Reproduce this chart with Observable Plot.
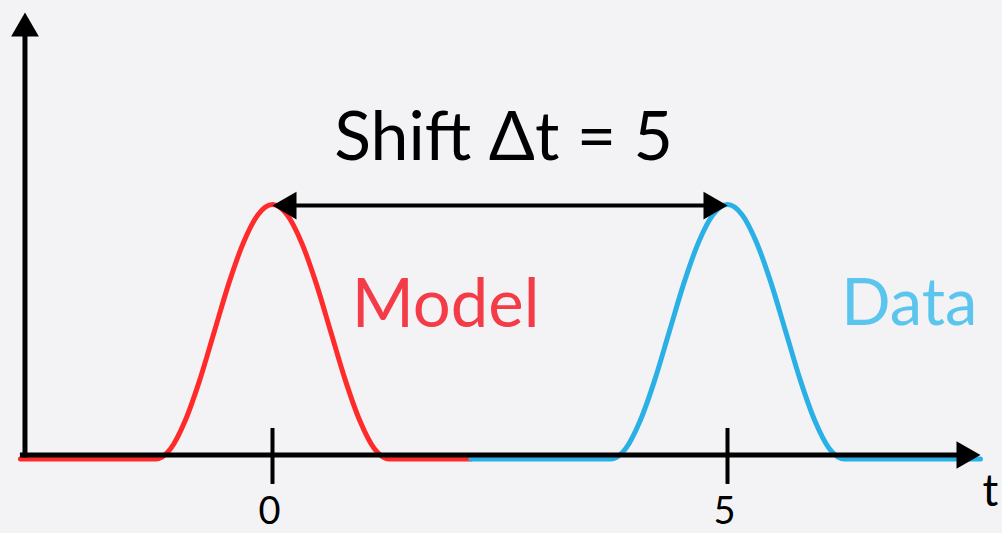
<!DOCTYPE html>
<html>
<head>
<meta charset="utf-8">
<script src="https://cdn.jsdelivr.net/npm/d3@7"></script>
<script src="https://cdn.jsdelivr.net/npm/@observablehq/plot@0.6"></script>
<style>
  html, body { margin: 0; padding: 0; background: #f3f3f6; }
  #chart { width: 1002px; height: 533px; overflow: hidden; }
</style>
</head>
<body>
<div id="chart"></div>
<script>
// Model curve (red): t in units, y relative to peak height
const modelT = [-2.77, -1.28, -1.12, -0.96, -0.80, -0.64, -0.48, -0.32, -0.16, 0, 0.16, 0.32, 0.48, 0.64, 0.80, 0.96, 1.12, 1.28, 2.18];
const modelY = [0, 0, 0.04, 0.15, 0.31, 0.50, 0.69, 0.85, 0.96, 1, 0.96, 0.85, 0.69, 0.50, 0.31, 0.15, 0.04, 0, 0];
// Data curve (blue)
const dataT = [2.18, 3.72, 3.88, 4.04, 4.20, 4.36, 4.52, 4.68, 4.84, 5, 5.16, 5.32, 5.48, 5.64, 5.80, 5.96, 6.12, 6.28, 7.78];
const dataY = [0, 0, 0.04, 0.15, 0.31, 0.50, 0.69, 0.85, 0.96, 1, 0.96, 0.85, 0.69, 0.50, 0.31, 0.15, 0.04, 0, 0];

// axes extents (in data units)
const xAxisExtent = [-2.77, 7.78];
const yAxisExtent = [0.006, 1.754];
const yAxisAt = -2.72;
const tickValues = [0, 5];
const tickLabels = ["0", "5"];
const tickSpan = [-0.10, 0.12];
const tickLabelY = -0.256;

// shift arrow
const shiftFrom = 0;
const shiftTo = 5;
const shiftLevel = 0.996;

// labels
const titleText = "Shift Δt = 5";
const titlePos = [2.54, 1.173];
const modelLabel = "Model";
const modelLabelPos = [0.87, 0.52];
const dataLabel = "Data";
const dataLabelPos = [6.25, 0.525];
const axisLabel = "t";
const axisLabelPos = [7.89, -0.183];

const model = modelT.map((t, i) => ({t, y: modelY[i]}));
const data = dataT.map((t, i) => ({t, y: dataY[i]}));
const ticks = tickValues.map((t, i) => ({t, label: tickLabels[i]}));

const W = 1002, H = 533;
const x0px = 272, pxPerT = 91;
const y0px = 458.5, pxPerY = 254.5;
const headInsetY = 12 / pxPerY;

const fontFam = "Lato, 'Open Sans', sans-serif";

const plot = Plot.plot({
  width: W,
  height: H,
  margin: 0,
  style: {background: "#f3f3f6", fontFamily: fontFam, overflow: "visible"},
  x: {domain: [-x0px / pxPerT, (W - x0px) / pxPerT], axis: null},
  y: {domain: [(y0px - H) / pxPerY, y0px / pxPerY], axis: null},
  marks: [
    Plot.line(model, {x: "t", y: "y", stroke: "#ff2b2b", strokeWidth: 5, curve: "monotone-x"}),
    Plot.line(data, {x: "t", y: "y", stroke: "#2bb0e6", strokeWidth: 5, curve: "monotone-x"}),
    // x axis
    Plot.ruleY([0], {x1: xAxisExtent[0], x2: xAxisExtent[1], stroke: "#000", strokeWidth: 5, dy: -4, insetRight: 12}),
    Plot.dot([xAxisExtent[1]], {x: d => d, y: 0, symbol: "triangle", r: 10.3, fill: "#000", stroke: "none", rotate: 90, dx: -16, dy: -4}),
    // y axis
    Plot.link([yAxisAt], {x1: d => d, x2: d => d, y1: () => yAxisExtent[0], y2: () => yAxisExtent[1] - headInsetY, stroke: "#000", strokeWidth: 5}),
    Plot.dot([yAxisExtent[1]], {x: yAxisAt, y: d => d, symbol: "triangle", r: 10.3, fill: "#000", stroke: "none", dy: 16}),
    // ticks
    Plot.ruleX(ticks, {x: "t", y1: tickSpan[0], y2: tickSpan[1], stroke: "#000", strokeWidth: 4}),
    Plot.text(ticks, {x: "t", y: tickLabelY, text: "label", fontSize: 38, lineAnchor: "bottom", dx: -3, fill: "#000", fontFamily: fontFam}),
    // shift arrow
    Plot.ruleY([shiftLevel], {x1: shiftFrom, x2: shiftTo, stroke: "#000", strokeWidth: 4, insetLeft: 12, insetRight: 12}),
    Plot.dot([shiftFrom], {x: d => d, y: shiftLevel, symbol: "triangle", r: 10.3, fill: "#000", stroke: "none", rotate: -90, dx: 16}),
    Plot.dot([shiftTo], {x: d => d, y: shiftLevel, symbol: "triangle", r: 10.3, fill: "#000", stroke: "none", rotate: 90, dx: -16}),
    // labels
    Plot.text([titleText], {x: titlePos[0], y: titlePos[1], text: d => d, textAnchor: "middle", fill: "#000", fontSize: 68, lineAnchor: "bottom", fontFamily: fontFam}),
    Plot.text([modelLabel], {x: modelLabelPos[0], y: modelLabelPos[1], text: d => d, textAnchor: "start", fill: "#f43c48", fontSize: 67, lineAnchor: "bottom", fontFamily: fontFam}),
    Plot.text([dataLabel], {x: dataLabelPos[0], y: dataLabelPos[1], text: d => d, textAnchor: "start", fill: "#5cc5ee", fontSize: 65, lineAnchor: "bottom", fontFamily: fontFam}),
    Plot.text([axisLabel], {x: axisLabelPos[0], y: axisLabelPos[1], text: d => d, textAnchor: "middle", fill: "#000", fontSize: 44, lineAnchor: "bottom", fontFamily: fontFam})
  ]
});
document.getElementById("chart").appendChild(plot);
</script>
</body>
</html>
